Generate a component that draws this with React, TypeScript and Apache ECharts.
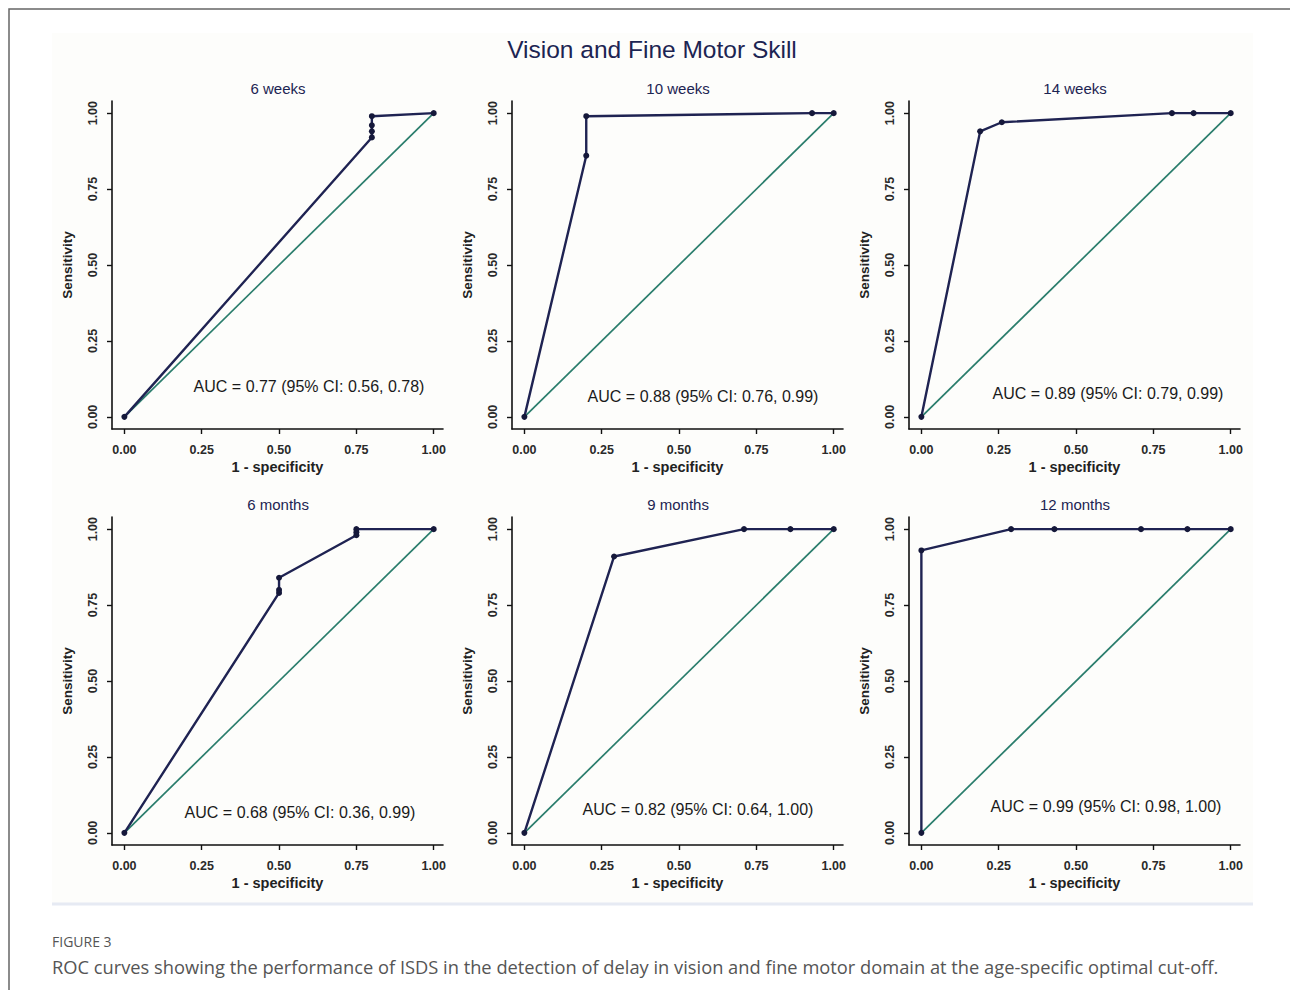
import React, { useEffect, useRef } from "react";
import * as echarts from "echarts";

const mainTitle = "Vision and Fine Motor Skill";
const panelTitles = ["6 weeks", "10 weeks", "14 weeks", "6 months", "9 months", "12 months"];

const fpr6w = [0, 0.8, 0.8, 0.8, 0.8, 1];
const sens6w = [0, 0.92, 0.94, 0.96, 0.99, 1];
const fpr10w = [0, 0.2, 0.2, 0.93, 1];
const sens10w = [0, 0.86, 0.99, 1, 1];
const fpr14w = [0, 0.19, 0.26, 0.81, 0.88, 1];
const sens14w = [0, 0.94, 0.97, 1, 1, 1];
const fpr6m = [0, 0.5, 0.5, 0.5, 0.75, 0.75, 0.75, 1];
const sens6m = [0, 0.79, 0.8, 0.84, 0.98, 0.99, 1, 1];
const fpr9m = [0, 0.29, 0.71, 0.86, 1];
const sens9m = [0, 0.91, 1, 1, 1];
const fpr12m = [0, 0, 0.29, 0.43, 0.71, 0.86, 1];
const sens12m = [0, 0.93, 1, 1, 1, 1, 1];

const fprs = [fpr6w, fpr10w, fpr14w, fpr6m, fpr9m, fpr12m];
const senss = [sens6w, sens10w, sens14w, sens6m, sens9m, sens12m];

const aucLabels = [
  "AUC = 0.77 (95% CI: 0.56, 0.78)",
  "AUC = 0.88 (95% CI: 0.76, 0.99)",
  "AUC = 0.89 (95% CI: 0.79, 0.99)",
  "AUC = 0.68 (95% CI: 0.36, 0.99)",
  "AUC = 0.82 (95% CI: 0.64, 1.00)",
  "AUC = 0.99 (95% CI: 0.98, 1.00)",
];
const aucPos = [
  [309, 386],
  [703, 396],
  [1108, 393],
  [300, 812],
  [698, 809],
  [1106, 806],
];

const tickValues = [0, 0.25, 0.5, 0.75, 1];
const diagonal = [
  [0, 0],
  [1, 1],
];
const xAxisName = "1 - specificity";
const yAxisName = "Sensitivity";
const figLabel = "FIGURE 3";
const caption =
  "ROC curves showing the performance of ISDS in the detection of delay in vision and fine motor domain at the age-specific optimal cut-off.";

const FONT = "'Liberation Sans', Arial, sans-serif";
const LEFTS = [112, 512, 909];
const TOPS = [101, 517];
const GW = 331;
const GH = 328;
const XMIN = -0.04;
const XMAX = 1.03;
const YMIN = -0.04;
const YMAX = 1.04;

export default function App() {
  const ref = useRef<HTMLDivElement>(null);
  useEffect(() => {
    document.body.style.margin = "0";
    const chart = echarts.init(ref.current!, null, { renderer: "svg" });
    const grids: any[] = [];
    const xAxes: any[] = [];
    const yAxes: any[] = [];
    const series: any[] = [];
    const titles: any[] = [
      {
        text: mainTitle,
        left: 652,
        top: 37,
        padding: 0,
        textAlign: "center",
        textStyle: { fontFamily: FONT, fontSize: 24.5, fontWeight: "normal", color: "#1c2452" },
      },
    ];
    const graphics: any[] = [
      {
        type: "rect",
        shape: { x: 52, y: 33, width: 1201, height: 872 },
        style: { fill: "#fdfdfb" },
        z: -10,
      },
      {
        type: "line",
        shape: { x1: 52, y1: 904, x2: 1253, y2: 904 },
        style: { stroke: "#e6eaf3", lineWidth: 3 },
        z: -9,
      },
      {
        type: "rect",
        shape: { x: 9, y: 9, width: 1300, height: 1000 },
        style: { fill: "none", stroke: "#666", lineWidth: 1.5 },
      },
      {
        type: "text",
        x: 52,
        y: 934,
        style: { text: figLabel, fontFamily: "'Open Sans', sans-serif", fontSize: 14, fill: "#555" },
      },
      {
        type: "text",
        x: 52,
        y: 957,
        style: { text: caption, fontFamily: "'Open Sans', sans-serif", fontSize: 18.3, fill: "#555" },
      },
    ];
    for (let i = 0; i < 6; i++) {
      const col = i % 3;
      const row = Math.floor(i / 3);
      const left = LEFTS[col];
      const top = TOPS[row];
      grids.push({ left, top, width: GW, height: GH, containLabel: false });
      const axisCommon = {
        type: "value",
        axisLine: { show: true, onZero: false, lineStyle: { color: "#111", width: 1.6 } },
        axisTick: { show: true, customValues: tickValues, length: 5, lineStyle: { color: "#111", width: 1.4 } },
        splitLine: { show: false },
        gridIndex: i,
        nameLocation: "middle",
        nameTextStyle: { fontFamily: FONT, fontSize: 14.5, color: "#222", fontWeight: "bold" },
      };
      xAxes.push({
        ...axisCommon,
        min: XMIN,
        max: XMAX,
        name: xAxisName,
        nameGap: 30,
        axisLabel: {
          customValues: tickValues,
          formatter: (v: number) => v.toFixed(2),
          fontFamily: FONT,
          fontSize: 12.5,
          fontWeight: "bold",
          color: "#2a2a2a",
          margin: 14,
        },
      });
      yAxes.push({
        ...axisCommon,
        min: YMIN,
        max: YMAX,
        name: yAxisName,
        nameGap: 38,
        nameTextStyle: { fontFamily: FONT, fontSize: 13.5, color: "#222", fontWeight: "bold" },
        axisLabel: {
          customValues: tickValues,
          formatter: (v: number) => v.toFixed(2),
          rotate: 90,
          fontFamily: FONT,
          fontSize: 12.5,
          fontWeight: "bold",
          color: "#2a2a2a",
          margin: 13,
        },
      });
      titles.push({
        text: panelTitles[i],
        left: left + (0 - XMIN) * (GW / (XMAX - XMIN)) + 0.5 * (GW / (XMAX - XMIN)) - 1,
        top: top - 20,
        padding: 0,
        textAlign: "center",
        textStyle: { fontFamily: FONT, fontSize: 15, fontWeight: "normal", color: "#1c2452" },
      });
      series.push({
        type: "line",
        xAxisIndex: i,
        yAxisIndex: i,
        data: diagonal,
        symbol: "none",
        lineStyle: { color: "#2a7d6c", width: 1.7 },
        z: 2,
      });
      series.push({
        type: "line",
        xAxisIndex: i,
        yAxisIndex: i,
        data: fprs[i].map((x, k) => [x, senss[i][k]]),
        symbol: "circle",
        symbolSize: 6,
        itemStyle: { color: "#15183a" },
        lineStyle: { color: "#1f2352", width: 2.4 },
        z: 3,
      });
      graphics.push({
        type: "text",
        x: aucPos[i][0],
        y: aucPos[i][1],
        style: {
          text: aucLabels[i],
          fontFamily: FONT,
          fontSize: 16,
          fill: "#1a1a1a",
          align: "center",
          verticalAlign: "middle",
        },
        z: 10,
      });
    }
    chart.setOption({
      animation: false,
      backgroundColor: "#ffffff",
      title: titles,
      grid: grids,
      xAxis: xAxes,
      yAxis: yAxes,
      series,
      graphic: graphics,
    });
    return () => chart.dispose();
  }, []);
  return <div ref={ref} style={{ width: 1290, height: 990 }} />;
}
